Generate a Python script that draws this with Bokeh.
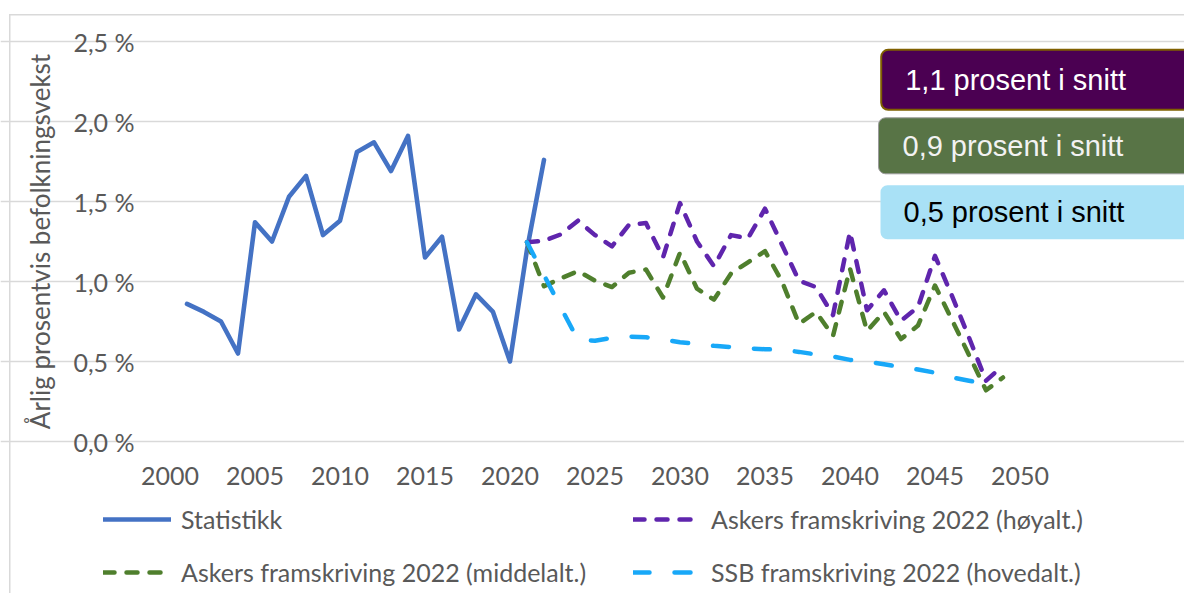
from bokeh.plotting import figure
from bokeh.models import (FixedTicker, Legend, LegendItem, Label, Range1d)
from bokeh.embed import file_html
from bokeh.resources import INLINE

# ---------------- data ----------------
stat_years = list(range(2001, 2023))
stat_values = [0.86, 0.81, 0.75, 0.55, 1.37, 1.25, 1.53, 1.66, 1.29, 1.38, 1.81,
               1.87, 1.69, 1.91, 1.15, 1.28, 0.70, 0.92, 0.81, 0.50, 1.20, 1.76]

proj_years = list(range(2021, 2050))
high_values = [1.245, 1.255, 1.295, 1.38, 1.29, 1.22, 1.355, 1.365, 1.15, 1.49,
               1.25, 1.095, 1.29, 1.27, 1.455, 1.23, 1.005, 0.965, 0.79, 1.31,
               0.82, 0.945, 0.755, 0.84, 1.16, 0.91, 0.65, 0.38, 0.475]
mid_values = [1.245, 0.97, 1.02, 1.065, 1.005, 0.965, 1.055, 1.075, 0.90, 1.18,
              0.955, 0.887, 1.05, 1.12, 1.19, 1.00, 0.735, 0.81, 0.66, 1.08,
              0.69, 0.81, 0.64, 0.725, 0.975, 0.76, 0.54, 0.32, 0.40]

ssb_years = list(range(2021, 2049))
ssb_values = [1.245, 1.04, 0.835, 0.635, 0.63, 0.648, 0.655, 0.652, 0.637, 0.62,
              0.61, 0.598, 0.59, 0.581, 0.577, 0.573, 0.56, 0.544, 0.531, 0.51,
              0.50, 0.483, 0.465, 0.45, 0.43, 0.40, 0.38, 0.36]

series_names = ["Statistikk",
                "Askers framskriving 2022 (høyalt.)",
                "Askers framskriving 2022 (middelalt.)",
                "SSB framskriving 2022 (hovedalt.)"]

x_ticks = [2000, 2005, 2010, 2015, 2020, 2025, 2030, 2035, 2040, 2045, 2050]
x_tick_labels = ["2000", "2005", "2010", "2015", "2020", "2025", "2030",
                 "2035", "2040", "2045", "2050"]
y_ticks = [0, 0.5, 1, 1.5, 2, 2.5]
y_tick_labels = ["0,0 %", "0,5 %", "1,0 %", "1,5 %", "2,0 %", "2,5 %"]

y_title = "Årlig prosentvis befolkningsvekst"
box_texts = ["1,1 prosent i snitt", "0,9 prosent i snitt", "0,5 prosent i snitt"]

# ---------------- layout constants ----------------
GRAY = "#595959"
FONT = "Lato"
FS = "25px"
W, H = 1184, 593
PLOT_LEFT, PLOT_TOP, PLOT_BOTTOM = 161, 41, 441      # pixel edges of the plot area
PX_PER_YEAR = 17.0
PX_PER_PCT = (PLOT_BOTTOM - PLOT_TOP) / 2.5
X_START, X_END = 1999.5, 2050.5                       # category band edges
Y_START, Y_END = 0.0, 2.5

# full-canvas frame; the plot area is a sub-region of it
x_lo = X_START - PLOT_LEFT / PX_PER_YEAR
x_hi = X_START + (W - PLOT_LEFT) / PX_PER_YEAR
y_lo = Y_START - (H - PLOT_BOTTOM) / PX_PER_PCT
y_hi = Y_START + PLOT_BOTTOM / PX_PER_PCT

p = figure(width=W, height=H, output_backend="svg", toolbar_location=None,
           x_range=Range1d(x_lo, x_hi), y_range=Range1d(y_lo, y_hi),
           min_border=0)
p.outline_line_color = None
p.background_fill_alpha = 0
p.border_fill_alpha = 0
p.styles = {
    "background": ("linear-gradient(#D9D9D9,#D9D9D9) 9px 14px / 1.5px 100% no-repeat, "
                   "linear-gradient(#D9D9D9,#D9D9D9) 9px 14px / 100% 1.5px no-repeat, white"),
}

p.xgrid.visible = False
p.ygrid.ticker = FixedTicker(ticks=y_ticks)
p.ygrid.bounds = (X_START, X_END)
p.ygrid.grid_line_color = "#D9D9D9"
p.ygrid.grid_line_width = 1.5

p.xaxis.ticker = FixedTicker(ticks=x_ticks)
p.xaxis.major_label_overrides = dict(zip(x_ticks, x_tick_labels))
p.xaxis.fixed_location = Y_START
p.xaxis.bounds = (X_START, X_END)
p.yaxis.ticker = FixedTicker(ticks=y_ticks)
p.yaxis.major_label_overrides = dict(zip(y_ticks, y_tick_labels))
p.yaxis.fixed_location = X_START
p.yaxis.bounds = (Y_START, Y_END)

for ax in (p.xaxis[0], p.yaxis[0]):
    ax.axis_line_color = None
    ax.major_tick_line_color = None
    ax.minor_tick_line_color = None
    ax.major_tick_in = 0
    ax.major_tick_out = 0
    ax.major_label_text_font = FONT
    ax.major_label_text_font_size = FS
    ax.major_label_text_color = GRAY

p.yaxis.major_label_standoff = 27
p.xaxis.major_label_standoff = 25
p.yaxis.axis_label = y_title
p.yaxis.axis_label_text_font = FONT
p.yaxis.axis_label_text_font_size = "26px"
p.yaxis.axis_label_text_font_style = "normal"
p.yaxis.axis_label_text_color = GRAY
p.yaxis.axis_label_standoff = 14

# ---------------- series ----------------
r_stat = p.line(stat_years, stat_values, line_color="#4472C4", line_width=4.6,
                line_join="round", line_cap="round")
r_high = p.line(proj_years, high_values, line_color="#5F25AD", line_width=4.5,
                line_dash="11 12", line_join="round", line_cap="round")
r_mid = p.line(proj_years, mid_values, line_color="#4F7F2D", line_width=4.5,
               line_dash="11 12", line_join="round", line_cap="round")
r_ssb = p.line(ssb_years, ssb_values, line_color="#18A8F8", line_width=4.5,
               line_dash="16 25", line_join="round", line_cap="round")

# ---------------- legend ----------------
legend = Legend(items=[LegendItem(label=series_names[0], renderers=[r_stat]),
                       LegendItem(label=series_names[1], renderers=[r_high]),
                       LegendItem(label=series_names[2], renderers=[r_mid]),
                       LegendItem(label=series_names[3], renderers=[r_ssb])],
                orientation="horizontal", ncols=2,
                location=(103, 1),
                border_line_color=None, background_fill_alpha=0,
                padding=0, margin=0, spacing=13,
                glyph_width=68, glyph_height=40, label_height=40, label_width=439,
                label_standoff=10, label_text_font=FONT,
                label_text_font_size=FS, label_text_color=GRAY)
p.add_layout(legend, "center")

# ---------------- average boxes ----------------
box_styles = [
    dict(x=880.7, y=H - 79.3, fill="#4B0052", text="white", border="#7F6000", bw=2,
         pad=dict(left=24, right=150, top=14, bottom=14)),
    dict(x=878, y=H - 145.3, fill="#587446", text="#F2F2F2", border="#9A9A9A", bw=1,
         pad=dict(left=24, right=150, top=12, bottom=12)),
    dict(x=880, y=H - 211.7, fill="#A9E1F6", text="black", border=None, bw=1,
         pad=dict(left=23, right=150, top=11, bottom=11)),
]
for t, s in zip(box_texts, box_styles):
    p.add_layout(Label(x=s["x"], y=s["y"], x_units="screen", y_units="screen",
                       text=t, text_font="Liberation Sans", text_font_size="29px",
                       text_color=s["text"], text_align="left", text_baseline="middle",
                       background_fill_color=s["fill"], border_line_color=s["border"],
                       border_line_width=s["bw"], border_radius=7, padding=s["pad"]))

open("out.html", "w").write(file_html(p, INLINE))
